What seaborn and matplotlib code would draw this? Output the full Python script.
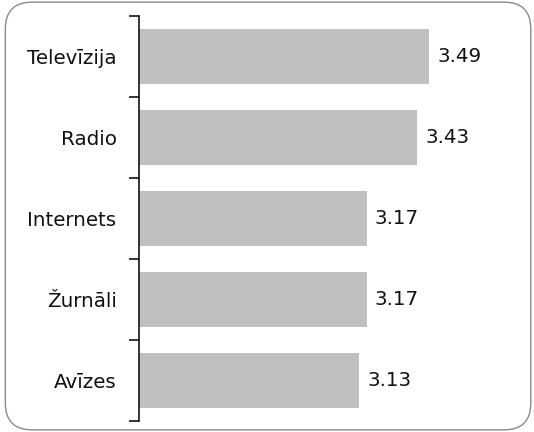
import matplotlib
matplotlib.use("Agg")
import matplotlib.pyplot as plt
import seaborn as sns
import pandas as pd
from matplotlib.patches import FancyBboxPatch

categories = ["Televīzija", "Radio", "Internets", "Žurnāli", "Avīzes"]
values = [3.49, 3.43, 3.17, 3.17, 3.13]
value_labels = ["3.49", "3.43", "3.17", "3.17", "3.13"]

sns.set_style("white")
plt.rcParams['font.family'] = ['DejaVu Sans']

df = pd.DataFrame({"cat": categories, "val": values})

fig = plt.figure(figsize=(5.34, 4.32), dpi=100)
ax = fig.add_axes([0.260, 0.0255, 0.729, 0.9375])

sns.barplot(data=df, y="cat", x="val", orient="h", color="#C0C0C0",
            saturation=1, width=0.68, linewidth=0, ax=ax)

ax.set_xlim(2, 4)
ax.set_ylim(4.5, -0.5)
ax.set_xlabel("")
ax.set_ylabel("")
ax.set_xticks([])

for s in ["top", "right", "bottom"]:
    ax.spines[s].set_visible(False)
ax.spines["left"].set_color("black")
ax.spines["left"].set_linewidth(1.1)

ax.set_yticks(range(len(categories)))
ax.set_yticklabels(categories, fontsize=14.3, color="#111111")
ax.tick_params(axis="y", which="major", length=0, pad=16)
ax.set_yticks([i - 0.5 for i in range(len(categories) + 1)], minor=True)
ax.tick_params(axis="y", which="minor", length=7, width=1.1, color="black", direction="out", left=True)

ax.bar_label(ax.containers[0], labels=value_labels, padding=6, fontsize=14.3, color="#111111")

border = FancyBboxPatch((0.01, 0.005), 0.984, 0.99, boxstyle="round,pad=0,rounding_size=0.05",
                        transform=fig.transFigure, facecolor="none", edgecolor="#8a8a8a",
                        linewidth=1.0, mutation_aspect=534/432)
fig.patches.append(border)

fig.savefig("out.png", dpi=100)
